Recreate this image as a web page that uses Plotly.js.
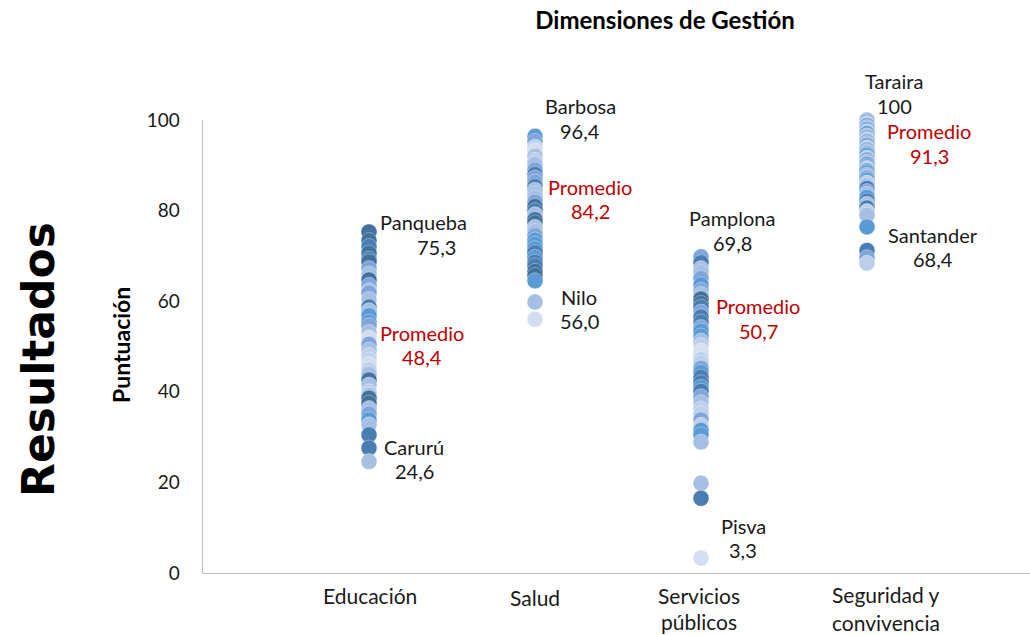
<!DOCTYPE html>
<html>
<head>
<meta charset="utf-8">
<script src="https://cdn.plot.ly/plotly-3.0.1.min.js"></script>
<style>html,body{margin:0;padding:0;background:#fff;}#chart{width:1030px;height:635px;}</style>
</head>
<body>
<div id="chart"></div>
<script>
// ---------- DATA ----------
const categories = ["Educación", "Salud", "Servicios públicos", "Seguridad y convivencia"];
const categoryLines = [["Educación"], ["Salud"], ["Servicios", "públicos"], ["Seguridad y", "convivencia"]];

const educacion = [75.3, 73.4, 72.1, 70.6, 69.3, 68.7, 67.2, 66.0, 64.7, 63.5, 62.3, 61.8, 60.4, 58.7, 57.9, 56.8, 55.4, 54.6, 53.1, 51.9, 50.5, 49.2, 48.0, 47.0, 46.1, 44.8, 43.9, 42.6, 41.5, 40.0, 39.2, 38.6, 37.5, 36.3, 35.1, 33.8, 32.7, 30.5, 27.6, 24.6];
const salud = [96.4, 95.3, 94.0, 93.2, 92.0, 91.1, 90.2, 89.0, 88.0, 87.2, 86.3, 85.3, 84.5, 83.6, 82.8, 81.9, 80.9, 80.0, 79.1, 78.0, 77.3, 76.3, 75.4, 74.5, 73.5, 72.6, 71.6, 70.7, 69.7, 68.6, 67.8, 66.6, 65.7, 64.5, 59.8, 56.0];
const servicios = [69.8, 68.5, 67.2, 66.3, 65.0, 63.6, 62.4, 61.5, 60.5, 59.5, 58.7, 57.6, 56.5, 55.4, 54.2, 53.4, 52.3, 51.2, 50.2, 49.0, 48.2, 47.1, 46.4, 45.2, 44.3, 43.2, 42.0, 41.0, 40.1, 38.9, 37.6, 36.2, 35.1, 33.8, 32.6, 31.5, 30.5, 28.9, 19.8, 16.5, 3.3];
const seguridad = [100, 99.6, 99.2, 98.8, 98.3, 97.9, 97.4, 97.0, 96.5, 96.1, 95.7, 95.2, 94.8, 94.3, 93.9, 93.4, 93.0, 92.5, 92.1, 91.6, 91.2, 90.7, 90.2, 89.8, 89.3, 88.8, 88.3, 87.8, 87.2, 86.7, 86.1, 85.5, 84.9, 84.2, 83.6, 82.9, 82.1, 81.4, 80.6, 79.8, 79.0, 76.4, 71.2, 69.6, 68.4];

const maxNames = ["Panqueba", "Barbosa", "Pamplona", "Taraira"];
const maxLabels = ["75,3", "96,4", "69,8", "100"];
const minNames = ["Carurú", "Nilo", "Pisva", "Santander"];
const minLabels = ["24,6", "56,0", "3,3", "68,4"];
const promedioLabels = ["48,4", "84,2", "50,7", "91,3"];

// ---------- STYLE ----------
const D = "#41719C", D2 = "#4A7EB3", M = "#5B9BD5", M2 = "#7EA6DA", L = "#A5C0E4", L2 = "#BDD0EB", VL = "#D3DFF1";
const eduColors = [D, D, D2, D, D2, D, M2, L, D, M2, L, M2, L, D2, L, M, M, M2, L, VL, M2, L, L2, L2, VL, L2, L, D, L, L2, L, D, D, L, M2, M, L, D2, D2, L];
const salColors = [M, M2, L2, VL, L, L2, L, M2, D2, M2, M2, D2, L, L, L, M2, D, D2, L, D, D, L, L, M2, M, M, M, D2, M, D2, D2, D, D, M, L, VL];
const serColors = [M2, D2, L, L, M2, M, M2, L, D, D, D2, M2, D2, D2, M2, M, M, L, L2, VL, VL, L2, L2, M2, M, D2, D2, M, D2, M2, L, L2, L2, M2, L2, M, M, L, L, D2, VL];
const segColors = [L, M2, L2, M2, L, M2, L2, M, L, M2, L2, M2, L, M, L2, M2, L, M2, M, L2, M2, L, M, M2, L2, M2, M, L, M2, M, L2, L, D2, M2, L, M, D2, L, D2, L2, L, M, D2, M2, L2];

const seriesList = [educacion, salud, servicios, seguridad];
const colorList = [eduColors, salColors, serColors, segColors];

const FONT = "Lato, 'Open Sans', sans-serif";

const traces = seriesList.map((vals, i) => ({
  type: "scatter",
  mode: "markers",
  name: categories[i],
  x: vals.map(() => i + 1),
  y: vals,
  marker: {
    size: 16,
    color: colorList[i].slice(0, vals.length),
    line: {color: "rgba(255,255,255,0.55)", width: 0.6}
  },
  hoverinfo: "y",
  showlegend: false,
  cliponaxis: false
}));

// pixel -> paper helper for label placement (plot area: x 203..1030 px, y 120..573 px)
const px = v => (v - 203) / 827;
const py = v => (573 - v) / 453;

function label(text, xPix, yPix, color, size) {
  return {
    text: text,
    x: px(xPix), y: py(yPix), xref: "paper", yref: "paper",
    xanchor: "center", yanchor: "middle", showarrow: false,
    font: {family: FONT, size: size || 20, color: color || "#1a1a1a"}
  };
}

const RED = "#C00000";
const maxPos = [[423, 222, 247], [580, 106, 131], [732, 218, 243], [894, 81, 106]];
const minPos = [[414, 447, 471], [579, 297, 321], [743, 526, 550], [933, 235, 259]];
const promPos = [[422, 333, 357], [590, 187, 211], [758, 306, 331], [929, 131, 156]];
const catPos = [[370, [595]], [535, [597]], [699, [595, 621]], [886, [594, 622]]];

const annotations = [];
for (let i = 0; i < 4; i++) {
  annotations.push(label(maxNames[i], maxPos[i][0], maxPos[i][1]));
  annotations.push(label(maxLabels[i], maxPos[i][0] + (i === 0 ? 13 : 0), maxPos[i][2]));
  annotations.push(label(minNames[i], minPos[i][0], minPos[i][1]));
  annotations.push(label(minLabels[i], minPos[i][0], minPos[i][2]));
  annotations.push(label("Promedio", promPos[i][0], promPos[i][1], RED));
  annotations.push(label(promedioLabels[i], promPos[i][0], promPos[i][2], RED));
  categoryLines[i].forEach((t, k) => annotations.push(label(t, catPos[i][0], catPos[i][1][k], null, 21)));
}
annotations.push({
  text: "<b>Puntuación</b>", textangle: -90, xref: "paper", yref: "paper",
  x: px(121), y: py(345), xanchor: "center", yanchor: "middle",
  showarrow: false, font: {family: FONT, size: 23, color: "#000"}
});
annotations.push({
  text: "<b>Resultados</b>", textangle: -90, xref: "paper", yref: "paper",
  x: px(38), y: py(360), xanchor: "center", yanchor: "middle",
  showarrow: false, font: {family: "'DejaVu Sans', sans-serif", size: 44, color: "#000"}
});

const layout = {
  width: 1030, height: 635,
  margin: {l: 203, r: 0, t: 120, b: 62},
  paper_bgcolor: "#fff", plot_bgcolor: "#fff",
  title: {
    text: "<b>Dimensiones de Gestión</b>",
    x: 665 / 1030, xanchor: "center", xref: "container",
    y: 1 - 21 / 635, yanchor: "middle", yref: "container",
    font: {family: FONT, size: 24, color: "#000"}
  },
  xaxis: {
    range: [0, 827 / 166], showgrid: false, zeroline: false,
    showline: true, linecolor: "#BFBFBF", linewidth: 1.3,
    showticklabels: false, ticks: "", fixedrange: true
  },
  yaxis: {
    range: [0, 100], showgrid: false, zeroline: false,
    showline: true, linecolor: "#BFBFBF", linewidth: 1.3,
    tickvals: [0, 20, 40, 60, 80, 100], ticks: "", ticklabelstandoff: 18,
    tickfont: {family: FONT, size: 19, color: "#1a1a1a"}, fixedrange: true
  },
  annotations: annotations
};

Plotly.newPlot("chart", traces, layout, {displayModeBar: false, staticPlot: true});
</script>
</body>
</html>
